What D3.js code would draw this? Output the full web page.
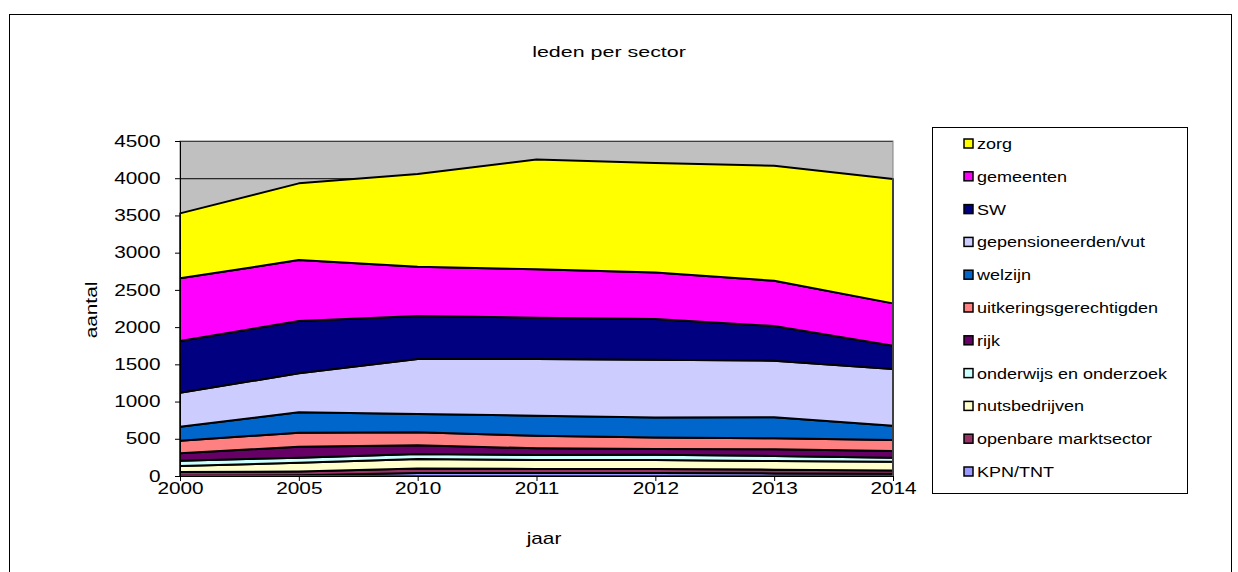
<!DOCTYPE html>
<html lang="nl">
  <head>
    <meta charset="utf-8">
    <title>leden per sector</title>
    <style>
      body { margin: 0; background: #fff; }
      text { font-family: Arial, "Liberation Sans", sans-serif; fill: #000; }
    </style>
  </head>
  <body>
<script src="https://d3js.org/d3.v7.min.js"></script>
<script>

// categories
var jaren = ["2000", "2005", "2010", "2011", "2012", "2013", "2014"];

// series, bottom of the stack first
var kpn        = [5, 10, 40, 40, 40, 35, 30];
var openbare   = [50, 50, 60, 55, 55, 50, 45];
var nuts       = [79, 119, 128, 120, 120, 116, 117];
var onderwijs  = [72, 67, 67, 67, 70, 68, 54];
var rijk       = [98, 148, 117, 90, 77, 89, 90];
var uitkering  = [170, 188, 175, 169, 156, 148, 147];
var welzijn    = [188, 273, 246, 269, 269, 282, 193];
var gepens     = [457, 524, 738, 761, 774, 761, 761];
var sw         = [694, 703, 578, 555, 547, 466, 313];
var gemeenten  = [842, 819, 662, 650, 626, 608, 569];
var zorg       = [873, 1030, 1245, 1477, 1469, 1544, 1670];

var reeksen = [
  {naam: "KPN/TNT", waarden: kpn, kleur: "#9999ff"},
  {naam: "openbare marktsector", waarden: openbare, kleur: "#993366"},
  {naam: "nutsbedrijven", waarden: nuts, kleur: "#ffffcc"},
  {naam: "onderwijs en onderzoek", waarden: onderwijs, kleur: "#ccffff"},
  {naam: "rijk", waarden: rijk, kleur: "#660066"},
  {naam: "uitkeringsgerechtigden", waarden: uitkering, kleur: "#ff8080"},
  {naam: "welzijn", waarden: welzijn, kleur: "#0066cc"},
  {naam: "gepensioneerden/vut", waarden: gepens, kleur: "#ccccff"},
  {naam: "SW", waarden: sw, kleur: "#000080"},
  {naam: "gemeenten", waarden: gemeenten, kleur: "#ff00ff"},
  {naam: "zorg", waarden: zorg, kleur: "#ffff00"}
];

var yTicks = [0, 500, 1000, 1500, 2000, 2500, 3000, 3500, 4000, 4500];

// table for d3.stack
var tabel = jaren.map(function(j, i) {
  var rij = {jaar: j};
  reeksen.forEach(function(r) { rij[r.naam] = r.waarden[i]; });
  return rij;
});

var svg = d3.select("body").append("svg")
            .attr("width", 1238)
            .attr("height", 572);

// outer frame
svg.append("rect")
   .attr("x", 9.5).attr("y", 14.5)
   .attr("width", 1222).attr("height", 600)
   .attr("fill", "#fff").attr("stroke", "#000").attr("stroke-width", 1);

var pLeft = 180, pRight = 893, pTop = 141, pBottom = 476;

var x = d3.scalePoint().domain(jaren).range([pLeft, pRight]);
var y = d3.scaleLinear().domain([0, 4500]).range([pBottom, pTop]);

// plot area
svg.append("rect")
   .attr("x", pLeft).attr("y", pTop)
   .attr("width", pRight - pLeft).attr("height", pBottom - pTop)
   .attr("fill", "#c0c0c0");

svg.append("g").selectAll("line")
   .data(yTicks)
   .join("line")
   .attr("x1", pLeft).attr("x2", pRight)
   .attr("y1", function(d) { return y(d) + 0.5; })
   .attr("y2", function(d) { return y(d) + 0.5; })
   .attr("stroke", "#000").attr("stroke-width", 1);

var stack = d3.stack().keys(reeksen.map(function(r) { return r.naam; }));
var lagen = stack(tabel);

var area = d3.area()
  .x(function(d) { return x(d.data.jaar); })
  .y0(function(d) { return y(d[0]); })
  .y1(function(d) { return y(d[1]); });

svg.append("g").selectAll("path")
   .data(lagen)
   .join("path")
   .attr("d", area)
   .attr("fill", function(d, i) { return reeksen[i].kleur; })
   .attr("stroke", "#000")
   .attr("stroke-width", 2)
   .attr("stroke-linejoin", "round");

// plot border
svg.append("rect")
   .attr("x", pLeft).attr("y", pTop)
   .attr("width", pRight - pLeft).attr("height", pBottom - pTop)
   .attr("fill", "none").attr("stroke", "#808080").attr("stroke-width", 1);

// axes (text is stretched sideways like the original)
var yAxis = d3.axisLeft(y).tickValues(yTicks).tickFormat(d3.format("d"))
  .tickSize(5).tickPadding(10);
var gy = svg.append("g").attr("transform", "translate(" + pLeft + ",0)").call(yAxis);
gy.select(".domain").attr("stroke", "#000");
gy.selectAll("text").style("font-size", "16px").attr("font-family", null)
  .attr("transform", "scale(1.3,1)");

var xAxis = d3.axisBottom(x).tickSize(5).tickPadding(2);
var gx = svg.append("g").attr("transform", "translate(0," + pBottom + ")").call(xAxis);
gx.select(".domain").attr("stroke", "#000");
gx.selectAll("text").style("font-size", "16px").attr("font-family", null)
  .attr("transform", "scale(1.3,1)");

// titles
svg.append("text")
   .attr("transform", "translate(609,57) scale(1.43,1)")
   .attr("text-anchor", "middle").style("font-size", "15px")
   .text("leden per sector");

svg.append("text")
   .attr("transform", "translate(544,544) scale(1.3,1)")
   .attr("text-anchor", "middle").style("font-size", "16px")
   .text("jaar");

svg.append("text")
   .attr("transform", "translate(97,310) rotate(-90) scale(1.3,1)")
   .attr("text-anchor", "middle").style("font-size", "16px")
   .text("aantal");

// legend
var legend = svg.append("g");
legend.append("rect")
   .attr("x", 932.5).attr("y", 127.5)
   .attr("width", 255).attr("height", 366)
   .attr("fill", "#fff").attr("stroke", "#000");

var items = reeksen.slice().reverse();
var rows = legend.selectAll("g.item")
   .data(items)
   .join("g")
   .attr("class", "item")
   .attr("transform", function(d, i) { return "translate(964," + (144 + i * 32.8) + ")"; });

rows.append("rect")
   .attr("x", 0).attr("y", -5)
   .attr("width", 9).attr("height", 9)
   .attr("fill", function(d) { return d.kleur; })
   .attr("stroke", "#000").attr("stroke-width", 1.5);

rows.append("text")
   .attr("transform", "translate(13,5) scale(1.2,1)")
   .style("font-size", "15px")
   .text(function(d) { return d.naam; });

</script>
  </body>
</html>
